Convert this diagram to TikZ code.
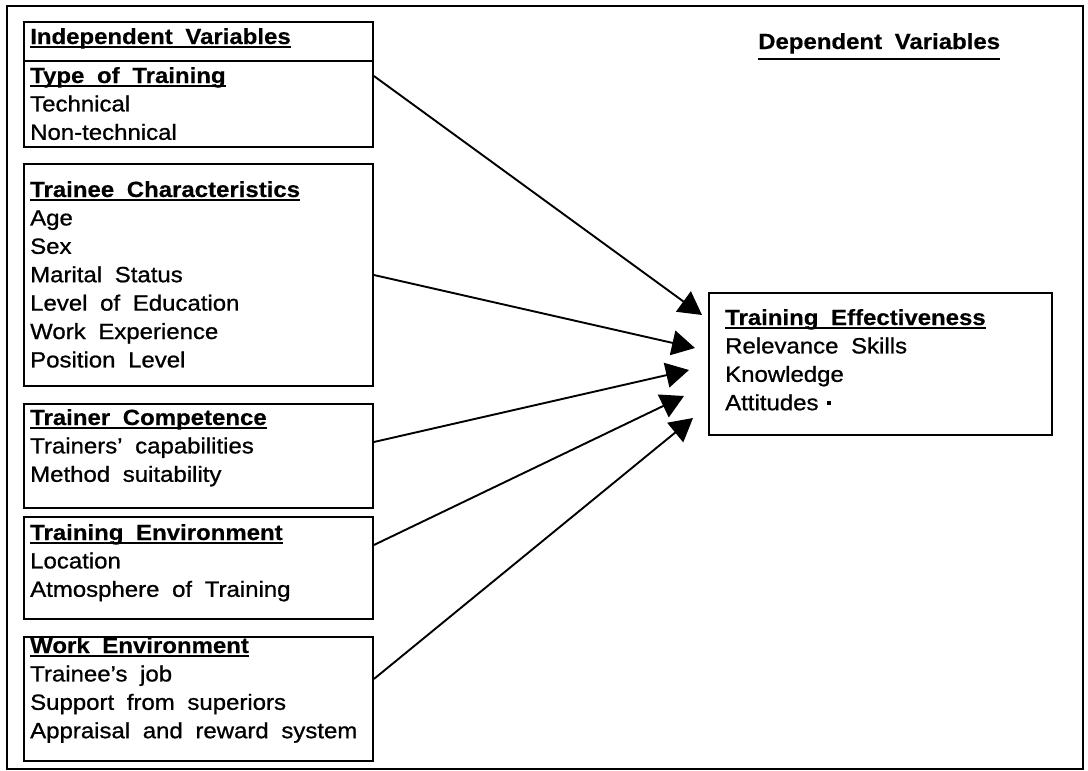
\documentclass[tikz,border=0pt]{standalone}
\usepackage{fontspec}
\setmainfont{Liberation Sans}[FakeStretch=1.09,WordSpace=1.9,UprightFeatures={FakeBold=0.9},BoldFeatures={FakeBold=0.4}]
\usetikzlibrary{calc,arrows.meta}

% bold heading with a heavy underline just under the baseline
\newcommand{\ulhead}[1]{\setbox0\hbox{\bfseries #1}\rlap{\rule[-4pt]{\wd0}{2.2pt}}\box0}
% stacked lines; the baseline of the block is that of its first line
\newcommand{\linestack}[1]{\vtop{\baselineskip=28.4pt\lineskiplimit=-60pt\lineskip=0pt #1}}

\begin{document}
\begin{tikzpicture}[x=1pt,y=-1pt,
  box/.style={draw,line width=1.9pt,inner sep=0pt,anchor=north west,minimum width=349pt},
  txt/.style={inner sep=0pt,anchor=base west,font=\fontsize{22}{28.4}\selectfont},
  link/.style={line width=1.9pt,-{Triangle[length=23pt,width=25pt]}}]
\useasboundingbox (0,0) rectangle (1088,771);

% outer frame
\node[box,line width=1.5pt,minimum width=1076pt,minimum height=763pt] (frame) at (6,5) {};

% independent variables
\node[box,minimum height=39pt]  (ivh) at (23,21)  {};
\node[box,minimum height=86pt]  (tt)  at (23,60)  {};
\node[box,minimum height=222pt] (tc)  at (23,163) {};
\node[box,minimum height=104pt] (trc) at (23,403) {};
\node[box,minimum height=102pt] (ten) at (23,516) {};
\node[box,minimum height=124pt] (wen) at (23,636) {};

\node[txt] (ivh-t) at (30,44) {\ulhead{Independent Variables}};
\node[txt] (tt-t) at (30,83) {\linestack{\hbox{\ulhead{Type of Training}}\hbox{Technical}\hbox{Non-technical}}};
\node[txt] (tc-t) at (30,197) {\linestack{\hbox{\ulhead{Trainee Characteristics}}\hbox{Age}\hbox{Sex}\hbox{Marital Status}\hbox{Level of Education}\hbox{Work Experience}\hbox{Position Level}}};
\node[txt] (trc-t) at (30,425) {\linestack{\hbox{\ulhead{Trainer Competence}}\hbox{Trainers' capabilities}\hbox{Method suitability}}};
\node[txt] (ten-t) at (30,540) {\linestack{\hbox{\ulhead{Training Environment}}\hbox{Location}\hbox{Atmosphere of Training}}};
\node[txt] (wen-t) at (30,653) {\linestack{\hbox{\ulhead{Work Environment}}\hbox{Trainee's job}\hbox{Support from superiors}\hbox{Appraisal and reward system}}};

% dependent variables
\node[txt] (dv) at (758,49) {\bfseries Dependent Variables};
\draw[line width=1.9pt] ($(dv.base west)+(0,10)$) -- ($(dv.base east)+(0,10)$);

\node[box,minimum width=343pt,minimum height=142pt] (te) at (708,292) {};
\node[txt] (te-t) at (725,325) {\linestack{\hbox{\ulhead{Training Effectiveness}}\hbox{Relevance Skills}\hbox{Knowledge}\hbox{Attitudes\hspace{8pt}\rule[5pt]{4pt}{4pt}}}};

% arrow ends in front of the dependent box
\coordinate (tip1) at ($(te.north west)+(-6,23)$);
\coordinate (tip2) at ($(te.north west)+(-13,56)$);
\coordinate (tip3) at ($(te.north west)+(-19,78)$);
\coordinate (tip4) at ($(te.north west)+(-24,104)$);
\coordinate (tip5) at ($(te.north west)+(-15,126)$);

\draw[link] ($(tt.north east)+(0,16)$)   -- (tip1);
\draw[link] ($(tc.north east)+(0,112)$)  -- (tip2);
\draw[link] ($(trc.north east)+(0,39)$)  -- (tip3);
\draw[link] ($(ten.north east)+(0,29)$)  -- (tip4);
\draw[link] ($(wen.north east)+(0,43)$)  -- (tip5);
\end{tikzpicture}
\end{document}
